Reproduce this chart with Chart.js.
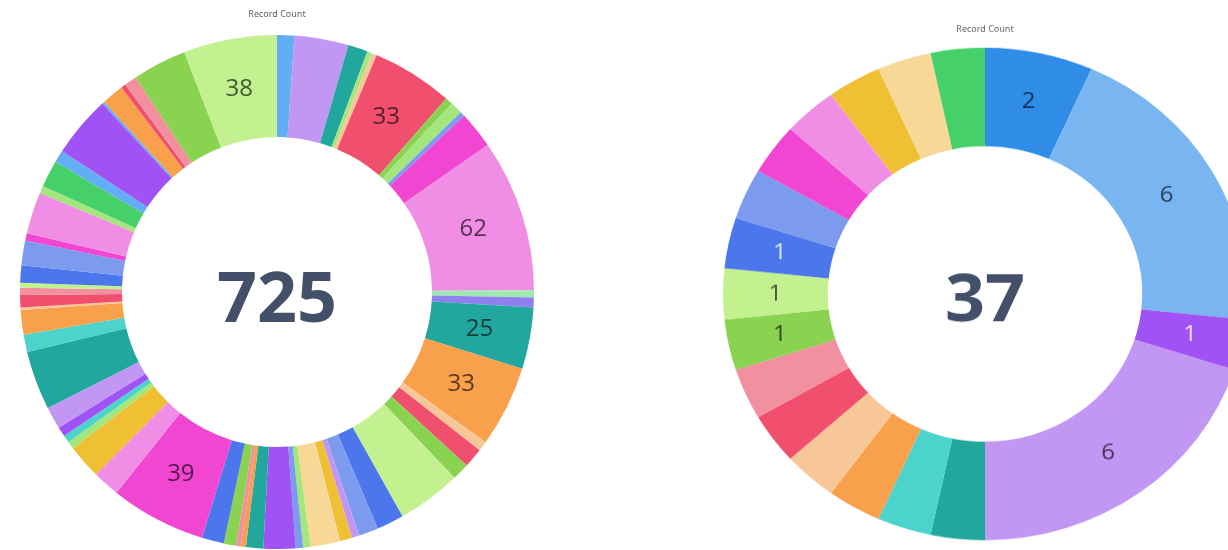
<!DOCTYPE html>
<html>
<head>
<meta charset="utf-8">
<script src="https://cdn.jsdelivr.net/npm/chart.js@4.4.0/dist/chart.umd.min.js"></script>
<style>
  html, body { margin: 0; padding: 0; background: #ffffff; }
  body { width: 1228px; height: 550px; overflow: hidden; position: relative; }
  #leftBox { position: absolute; left: 0; top: 0; width: 554px; height: 550px; }
  #rightBox { position: absolute; left: 715px; top: 0; width: 540px; height: 570px;
              transform-origin: 270px 294px; transform: scaleY(0.94); }
  canvas { display: block; }
</style>
</head>
<body>
<div id="leftBox"><canvas id="leftChart" width="554" height="550"></canvas></div>
<div id="rightBox"><canvas id="rightChart" width="540" height="570"></canvas></div>
<script>
// ---------------- DATA ----------------
const chartTitle = 'Record Count';

// Left donut (clockwise from 12 o'clock)
const leftCategories = ['C1','C2','C3','C4','C5','C6','C7','C8','C9','C10',
  'C11','C12','C13','C14','C15','C16','C17','C18','C19','C20',
  'C21','C22','C23','C24','C25','C26','C27','C28','C29','C30',
  'C31','C32','C33','C34','C35','C36','C37','C38','C39','C40',
  'C41','C42','C43','C44','C45','C46','C47','C48','C49','C50',
  'C51','C52','C53','C54','C55','C56','C57','C58','C59','C60'];
const leftValues = [7, 22, 8, 2, 2, 33, 3, 5, 2, 15,
  62, 3, 4, 25, 33, 4, 8, 7, 26, 11,
  8, 3, 5, 12, 3, 3, 13, 7, 2, 2,
  5, 9, 39, 11, 14, 3, 3, 4, 9, 24,
  7, 10, 1, 5, 3, 2, 7, 10, 3, 17,
  3, 11, 5, 25, 1, 9, 2, 5, 22, 38];
const leftLabelled = [5, 10, 13, 14, 32, 59];
const leftTotal = '725';

// Right donut (clockwise from 12 o'clock)
const rightCategories = ['R1','R2','R3','R4','R5','R6','R7','R8','R9','R10',
  'R11','R12','R13','R14','R15','R16','R17','R18','R19'];
const rightValues = [2, 6, 1, 6, 1, 1, 1, 1, 1, 1, 1, 1, 1, 1, 1, 1, 1, 1, 1];
const rightLabelled = [0, 1, 2, 3, 10, 11, 12];
const rightTotal = '37';

// ---------------- STYLE ----------------
const P = {
  lightblue: '#62adf3', lavender: '#c297f4', teal: '#22a79f', limegreen: '#a3e67e',
  peach: '#f7c797', red: '#f0506e', green: '#8ad350', lightgreen: '#c4f190',
  periwinkle: '#7c9bef', magenta: '#f046d2', pink: '#f08de4', mint: '#9fe9b0',
  violet: '#8f80f0', orange: '#f8a04b', blue: '#4b76ec', gold: '#f0c034',
  cream: '#f7d897', purple: '#a152f5', salmon: '#f3909f', turquoise: '#4bd3cc',
  brightgreen: '#46d06a', azure: '#2f8de8', skyblue: '#79b5f1'
};
const leftColors = [
  P.lightblue, P.lavender, P.teal, P.limegreen, P.peach, P.red, P.green, P.limegreen, P.periwinkle, P.magenta,
  P.pink, P.mint, P.violet, P.teal, P.orange, P.peach, P.red, P.green, P.lightgreen, P.blue,
  P.periwinkle, P.lavender, P.gold, P.cream, P.limegreen, P.periwinkle, P.purple, P.teal, P.orange, P.salmon,
  P.green, P.blue, P.magenta, P.pink, P.gold, P.limegreen, P.turquoise, P.purple, P.lavender, P.teal,
  P.turquoise, P.orange, P.peach, P.red, P.salmon, P.lightgreen, P.blue, P.periwinkle, P.magenta, P.pink,
  P.limegreen, P.brightgreen, P.lightblue, P.purple, P.lightblue, P.orange, P.red, P.salmon, P.green, P.lightgreen
];
const rightColors = [
  P.azure, P.skyblue, P.purple, P.lavender, P.teal, P.turquoise, P.orange, P.peach, P.red, P.salmon,
  P.green, P.lightgreen, P.blue, P.periwinkle, P.magenta, P.pink, P.gold, P.cream, P.brightgreen
];

function hexToRgb(h) {
  const n = parseInt(h.slice(1), 16);
  return [(n >> 16) & 255, (n >> 8) & 255, n & 255];
}
function lum(rgb) {
  const c = rgb.map(v => { v /= 255; return v <= 0.03928 ? v / 12.92 : Math.pow((v + 0.055) / 1.055, 2.4); });
  return 0.2126 * c[0] + 0.7152 * c[1] + 0.0722 * c[2];
}
function labelColor(hex) {
  const rgb = hexToRgb(hex);
  if (lum(rgb) < 0.23) {
    const m = rgb.map(v => Math.round(v + (255 - v) * 0.8));
    return `rgb(${m[0]},${m[1]},${m[2]})`;
  }
  const d = rgb.map(v => Math.round(v * 0.36));
  return `rgb(${d[0]},${d[1]},${d[2]})`;
}

const donutText = {
  id: 'donutText',
  afterDatasetsDraw(chart, args, opts) {
    const ctx = chart.ctx;
    const meta = chart.getDatasetMeta(0);
    const ds = chart.data.datasets[0];
    ctx.save();
    ctx.textAlign = 'center';
    ctx.textBaseline = 'middle';
    ctx.font = opts.labelFont;
    (opts.shown || []).forEach(i => {
      const arc = meta.data[i];
      if (!arc) return;
      const p = arc.getCenterPoint();
      ctx.fillStyle = labelColor(ds.backgroundColor[i]);
      ctx.fillText(String(ds.data[i]), p.x, p.y);
    });
    const a = meta.data[0];
    ctx.font = opts.centerFont;
    ctx.fillStyle = opts.centerColor;
    ctx.textBaseline = 'alphabetic';
    ctx.fillText(opts.centerText, a.x, a.y + opts.centerDy);
    ctx.restore();
  }
};

function makeDonut(id, cats, vals, cols, shown, total, opt) {
  return new Chart(document.getElementById(id), {
    type: 'doughnut',
    data: {
      labels: cats,
      datasets: [{
        data: vals,
        backgroundColor: cols,
        borderWidth: 0,
        hoverOffset: 0,
        hoverBorderWidth: 0,
        radius: opt.radius
      }]
    },
    options: {
      responsive: false,
      maintainAspectRatio: false,
      animation: false,
      events: [],
      cutout: opt.cutout,
      layout: { padding: 0 },
      plugins: {
        legend: { display: false },
        tooltip: { enabled: false },
        title: {
          display: true,
          text: chartTitle,
          color: '#5e5e5e',
          font: { family: 'Noto Sans', size: 9, weight: 'normal' },
          padding: { top: opt.titleTop, bottom: opt.titleBottom }
        },
        donutText: {
          shown: shown,
          labelFont: '500 24px "Open Sans"',
          centerText: total,
          centerFont: 'bold 70px "Open Sans"',
          centerColor: '#435069',
          centerDy: opt.centerDy
        }
      }
    },
    plugins: [donutText]
  });
}

makeDonut('leftChart', leftCategories, leftValues, leftColors, leftLabelled, leftTotal,
  { radius: 257, cutout: '60.3%', titleTop: 9, titleBottom: 14.2, centerDy: 30 });
makeDonut('rightChart', rightCategories, rightValues, rightColors, rightLabelled, rightTotal,
  { radius: 262, cutout: '60%', titleTop: 7, titleBottom: 0, centerDy: 29 });
</script>
</body>
</html>
